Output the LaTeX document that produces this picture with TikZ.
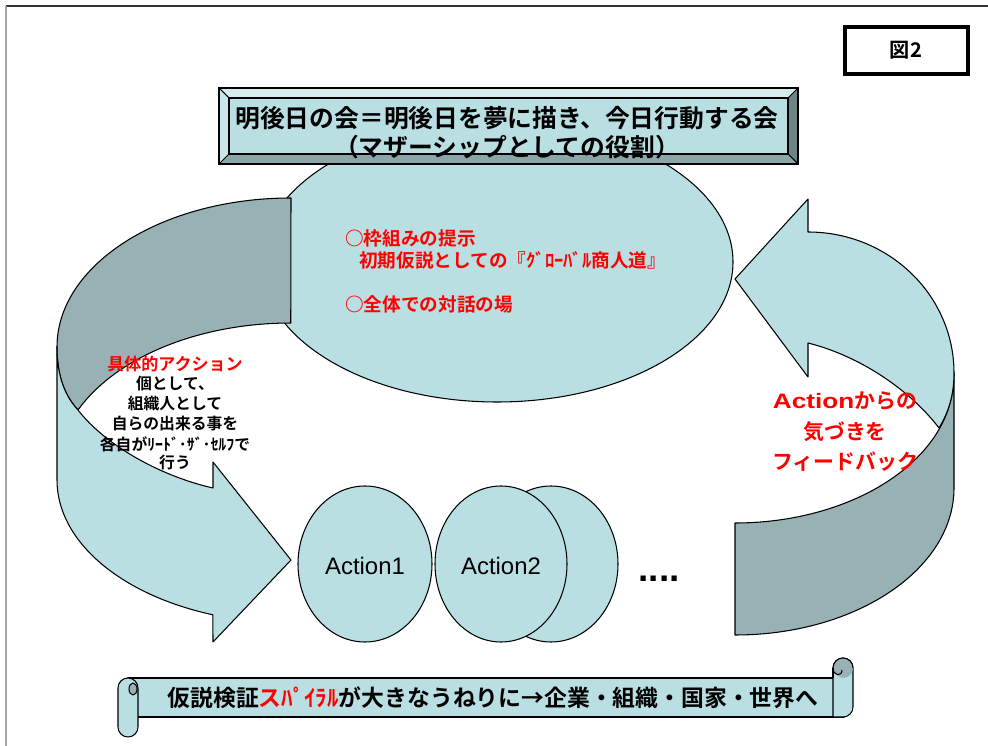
\documentclass[tikz,border=0pt]{standalone}
\usepackage{fontspec}
\usepackage{graphicx}
\setmainfont{Noto Sans CJK JP}[BoldFont={Noto Sans CJK JP Bold}]
\newfontfamily\arial{Liberation Sans}
\definecolor{lc}{RGB}{185,223,226}
\definecolor{dc}{RGB}{151,177,180}
\definecolor{bvtop}{RGB}{213,236,238}
\definecolor{bvleft}{RGB}{200,230,233}
\definecolor{bvbot}{RGB}{140,165,168}
\definecolor{bvright}{RGB}{110,132,135}
\definecolor{txtred}{RGB}{255,0,0}
\tikzset{
  shp/.style={draw=black, line width=0.6pt, line join=round},
  lightshp/.style={shp, fill=lc},
  darkshp/.style={shp, fill=dc},
  ttl/.style={font=\bfseries\fontsize{14.1}{16}\selectfont, inner sep=0pt},
  redtxt/.style={text=txtred, font=\bfseries\fontsize{10.6}{12}\selectfont, inner sep=0pt},
  lefttxt/.style={font=\bfseries\fontsize{9}{11}\selectfont, inner sep=0pt},
  righttxt/.style={text=txtred, font=\bfseries\fontsize{11.9}{14}\selectfont, inner sep=0pt},
  acttxt/.style={font=\arial\fontsize{13.6}{15}\selectfont, inner sep=0pt},
  scrolltxt/.style={font=\bfseries\fontsize{13}{15}\selectfont, inner sep=0pt},
}
\begin{document}
\begin{tikzpicture}[x=0.02cm, y=-0.02cm]
\useasboundingbox (0,0) rectangle (988,746);
\fill[white] (0,0) rectangle (988,746);
% page frame
\draw[black!80, line width=1pt] (6,6) -- (988,6);
\draw[black!35, line width=1pt] (6,6) -- (6,746);

% figure label
\draw[line width=2pt] (845,27) rectangle (968,74);
\node[font=\bfseries\fontsize{11.5}{13}\selectfont, inner sep=0pt] (fig) at (906,50) {図2};

% big ellipse
\draw[lightshp] (497,262) ellipse [x radius=236, y radius=140];

% left curved arrow (dark back part)
\draw[darkshp] (291,198) arc[start angle=-90, end angle=-180, x radius=234, y radius=149]
  .. controls (57,378) and (66,397) .. (78,410)
  arc[start angle=-155.4, end angle=-90, x radius=234, y radius=149] -- cycle;
% left curved arrow (light front part)
\draw[lightshp] (57,347) -- (57,480)
  arc[start angle=180, end angle=109.5, x radius=234, y radius=143]
  -- (213,642) -- (291,560) -- (213,462) -- (213,488)
  .. controls (160,476) and (105,445) .. (78,410)
  .. controls (66,397) and (57,378) .. (57,347) -- cycle;

% right curved arrow (dark part)
\draw[darkshp] (954,373) -- (954,488)
  arc[start angle=0, end angle=90, x radius=219, y radius=147]
  -- (735,523)
  arc[start angle=90, end angle=20.7, x radius=219, y radius=147]
  .. controls (948,413) and (954,396) .. (954,373) -- cycle;
% right curved arrow (light part)
\draw[lightshp] (735,279) -- (808,199) -- (808,232)
  arc[start angle=-90, end angle=0, x radius=146, y radius=141]
  .. controls (954,396) and (948,413) .. (939,428)
  .. controls (910,390) and (860,356) .. (808,343)
  -- (808,377) -- cycle;

% title bevel box
\fill[bvtop] (219,88) -- (798,88) -- (788,98) -- (229,98) -- cycle;
\fill[bvleft] (219,88) -- (229,98) -- (229,154) -- (219,164) -- cycle;
\fill[bvbot] (219,164) -- (229,154) -- (788,154) -- (798,164) -- cycle;
\fill[bvright] (798,88) -- (798,164) -- (788,154) -- (788,98) -- cycle;
\fill[lc] (229,98) rectangle (788,154);
\draw[line width=0.6pt] (219,88) rectangle (798,164);
\draw[line width=0.6pt] (229,98) rectangle (788,154);
\draw[line width=0.6pt] (219,88) -- (229,98) (798,88) -- (788,98) (219,164) -- (229,154) (798,164) -- (788,154);
\node[ttl] (t1) at (507,118) {明後日の会＝明後日を夢に描き、今日行動する会};
\node[ttl] (t2) at (507,147) {（マザーシップとしての役割）};

% ellipse texts
\node[redtxt, anchor=west] (e1) at (345,238) {○枠組みの提示};
\node[redtxt, anchor=west] (e2) at (359,260) {初期仮説としての『ｸﾞﾛｰﾊﾞﾙ商人道』};
\node[redtxt, anchor=west] (e3) at (345,304) {○全体での対話の場};

% left texts
\node[redtxt, font=\bfseries\fontsize{9.7}{12}\selectfont] (l0) at (175,364) {具体的アクション};
\node[lefttxt] (l1) at (175,384) {個として、};
\node[lefttxt] (l2) at (175,404) {組織人として};
\node[lefttxt] (l3) at (175,424) {自らの出来る事を};
\node[lefttxt] (l4) at (175,444) {各自がﾘｰﾄﾞ･ｻﾞ･ｾﾙﾌで};
\node[lefttxt] (l5) at (175,463) {行う};

% right texts
\node[righttxt] (r1) at (845,401) {\scalebox{1.25}[1]{\arial\bfseries Action}からの};
\node[righttxt] (r2) at (845,432) {気づきを};
\node[righttxt] (r3) at (845,462) {フィードバック};

% action circles
\draw[lightshp] (551,564) ellipse [x radius=67, y radius=78];
\draw[lightshp] (365,564) ellipse [x radius=67, y radius=78];
\draw[lightshp] (501,564) ellipse [x radius=66, y radius=78];
\node[acttxt] (a1) at (365,566) {Action1};
\node[acttxt] (a2) at (501,566) {Action2};
\node[font=\arial\bfseries\fontsize{21}{22}\selectfont, inner sep=0pt, anchor=base] (dots) at (659,582) {....};

% scroll
\draw[lightshp] (128,678) rectangle (844,717);
\draw[lightshp] (833,717) -- (833,668) arc[start angle=180, end angle=360, radius=10]
  -- (853,707) arc[start angle=0, end angle=90, radius=10] -- cycle;
\fill[dc] (843,668) circle[radius=10];
\draw[line width=0.6pt] (833,668) arc[start angle=180, end angle=360, radius=10];
\fill[lc] (833,668) arc[start angle=180, end angle=90, radius=9] -- (842,677) -- (833,677) -- cycle;
\draw[line width=0.6pt] (833,668) .. controls (833,676) and (842,677) .. (842,670);
\draw[line width=0.6pt] (833,678) -- (833,668);
\draw[lightshp] (118,688) -- (118,727) arc[start angle=180, end angle=0, radius=10]
  -- (138,688) arc[start angle=0, end angle=-180, radius=10] -- cycle;
\draw[darkshp] (133,689) ellipse[x radius=4, y radius=6];
\node[scrolltxt] (s) at (493,698) {仮説検証\textcolor{txtred}{スﾊﾟｲﾗﾙ}が大きなうねりに→企業・組織・国家・世界へ};
\end{tikzpicture}
\end{document}
